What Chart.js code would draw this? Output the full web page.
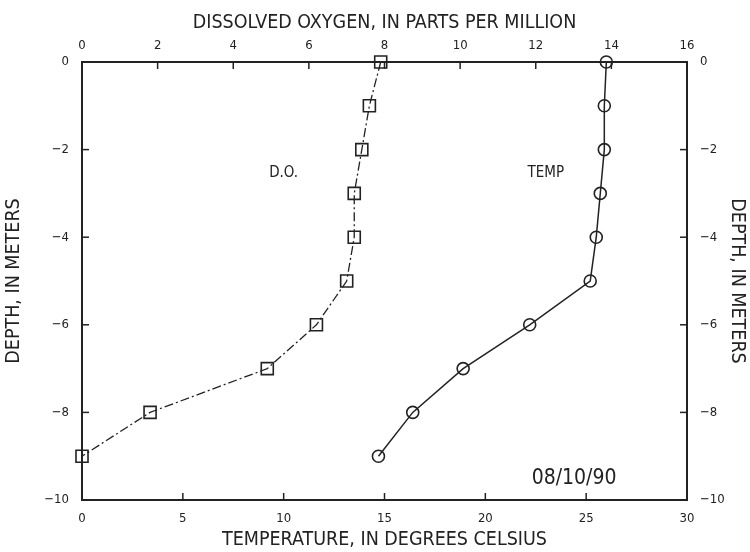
<!DOCTYPE html>
<html>
<head>
<meta charset="utf-8">
<script src="https://cdn.jsdelivr.net/npm/chart.js@4"></script>
<style>
  html, body { margin: 0; padding: 0; background: #fff; }
  #wrap { width: 750px; height: 552px; }
</style>
</head>
<body>
<div id="wrap"><canvas id="profile"></canvas></div>
<script>
// depth profile, 08/10/90
const depths = [0, -1, -2, -3, -4, -5, -6, -7, -8, -9];
const dissolvedOxygen = [7.9, 7.6, 7.4, 7.2, 7.2, 7.0, 6.2, 4.9, 1.8, 0.0];
const temperature = [26.0, 25.9, 25.9, 25.7, 25.5, 25.2, 22.2, 18.9, 16.4, 14.7];

// text notes placed in temperature / depth units
const notes = [
    {text: 'D.O.', x: 10.0, y: -2.53, size: 15},
    {text: 'TEMP', x: 23.0, y: -2.53, size: 15},
    {text: '08/10/90', x: 24.4, y: -9.5, size: 21}
];

const ink = '#222';
const fontFamily = '"DejaVu Sans Condensed", "Liberation Sans Narrow", sans-serif';

function toPoints(xs) {
    return xs.map((v, i) => ({x: v, y: depths[i]}));
}

function minusLabel(value) {
    return value < 0 ? '\u2212' + Math.abs(value) : String(value);
}

// tick marks drawn into the plot area, like the original
const innerTicks = {
    id: 'innerTicks',
    afterDraw(chart) {
        const ctx = chart.ctx;
        const area = chart.chartArea;
        const len = 7;
        ctx.save();
        ctx.strokeStyle = ink;
        ctx.lineWidth = 1.5;
        Object.values(chart.scales).forEach(scale => {
            scale.ticks.forEach(t => {
                const p = scale.getPixelForValue(t.value);
                ctx.beginPath();
                if (scale.position === 'top') { ctx.moveTo(p, area.top); ctx.lineTo(p, area.top + len); }
                if (scale.position === 'bottom') { ctx.moveTo(p, area.bottom); ctx.lineTo(p, area.bottom - len); }
                if (scale.position === 'left') { ctx.moveTo(area.left, p); ctx.lineTo(area.left + len, p); }
                if (scale.position === 'right') { ctx.moveTo(area.right, p); ctx.lineTo(area.right - len, p); }
                ctx.stroke();
            });
        });
        ctx.restore();
    }
};

const noteLabels = {
    id: 'noteLabels',
    afterDatasetsDraw(chart) {
        const ctx = chart.ctx;
        const xs = chart.scales.xTemp;
        const ys = chart.scales.yLeft;
        ctx.save();
        ctx.fillStyle = ink;
        ctx.textAlign = 'center';
        ctx.textBaseline = 'middle';
        notes.forEach(n => {
            ctx.font = n.size + 'px ' + fontFamily;
            ctx.fillText(n.text, xs.getPixelForValue(n.x), ys.getPixelForValue(n.y));
        });
        ctx.restore();
    }
};

function fixSize(prop, size) {
    return scale => { scale[prop] = size; };
}

const tickFont = {family: fontFamily, size: 13};
const titleFont = {family: fontFamily, size: 19.5};

const config = {
    type: 'scatter',
    data: {
        datasets: [{
            label: 'D.O.',
            data: toPoints(dissolvedOxygen),
            xAxisID: 'xDO',
            yAxisID: 'yLeft',
            showLine: true,
            borderColor: ink,
            borderWidth: 1.3,
            borderDash: [9, 3, 2, 3],
            pointStyle: 'rect',
            pointRadius: 8.5,
            pointBorderWidth: 1.6,
            pointBorderColor: ink,
            pointBackgroundColor: 'rgba(0,0,0,0)',
            clip: false
        }, {
            label: 'TEMP',
            data: toPoints(temperature),
            xAxisID: 'xTemp',
            yAxisID: 'yLeft',
            showLine: true,
            borderColor: ink,
            borderWidth: 1.5,
            pointStyle: 'circle',
            pointRadius: 6,
            pointBorderWidth: 1.6,
            pointBorderColor: ink,
            pointBackgroundColor: 'rgba(0,0,0,0)',
            clip: false
        }]
    },
    options: {
        responsive: true,
        maintainAspectRatio: false,
        animation: false,
        layout: {padding: 0},
        plugins: {
            legend: {display: false},
            tooltip: {enabled: false}
        },
        scales: {
            xTemp: {
                type: 'linear',
                position: 'bottom',
                min: 0, max: 30,
                ticks: {stepSize: 5, color: ink, font: tickFont, padding: 3, maxRotation: 0},
                grid: {display: false},
                border: {display: true, color: ink, width: 2},
                title: {display: true, text: 'TEMPERATURE, IN DEGREES CELSIUS', color: ink, font: titleFont, padding: {top: 0, bottom: 0}},
                afterFit: fixSize('height', 52)
            },
            xDO: {
                type: 'linear',
                position: 'top',
                min: 0, max: 16,
                ticks: {stepSize: 2, color: ink, font: tickFont, padding: 1, maxRotation: 0},
                grid: {display: false},
                border: {display: true, color: ink, width: 2},
                title: {display: true, text: 'DISSOLVED OXYGEN, IN PARTS PER MILLION', color: ink, font: titleFont, padding: {top: 11, bottom: 0}},
                afterFit: fixSize('height', 62)
            },
            yLeft: {
                type: 'linear',
                position: 'left',
                min: -10, max: 0,
                ticks: {stepSize: 2, color: ink, font: tickFont, padding: 5, callback: minusLabel},
                grid: {display: false},
                border: {display: true, color: ink, width: 2},
                title: {display: true, text: 'DEPTH, IN METERS', color: ink, font: titleFont, padding: {top: 2, bottom: 0}},
                afterFit: fixSize('width', 82)
            },
            yRight: {
                type: 'linear',
                position: 'right',
                min: -10, max: 0,
                ticks: {stepSize: 2, color: ink, font: tickFont, padding: 5, callback: minusLabel},
                grid: {display: false},
                border: {display: true, color: ink, width: 2},
                title: {display: true, text: 'DEPTH, IN METERS', color: ink, font: titleFont, padding: {top: 1, bottom: 0}},
                afterFit: fixSize('width', 63)
            }
        }
    },
    plugins: [innerTicks, noteLabels]
};

const profileChart = new Chart(document.getElementById('profile'), config);
</script>
</body>
</html>
